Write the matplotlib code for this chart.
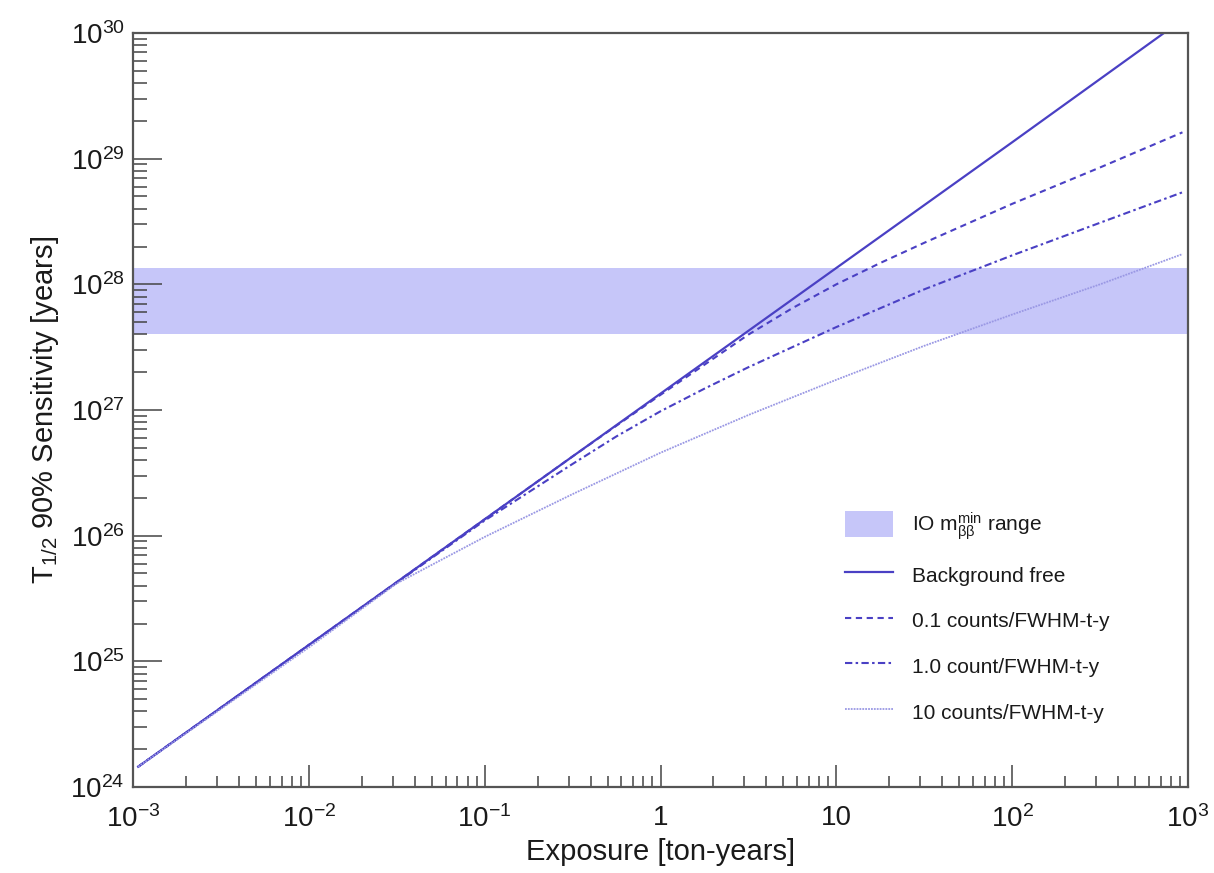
import numpy as np
import matplotlib
matplotlib.use("Agg")
import matplotlib.pyplot as plt
from matplotlib.ticker import FixedLocator, FixedFormatter, LogLocator, NullFormatter

plt.rcParams["font.family"] = ["Liberation Sans", "DejaVu Sans"]
plt.rcParams["mathtext.fontset"] = "custom"
plt.rcParams["mathtext.rm"] = "Liberation Sans"
plt.rcParams["mathtext.it"] = "Liberation Sans:italic"
plt.rcParams["mathtext.bf"] = "Liberation Sans:bold"

# exposure [ton-years] and half-life sensitivity [years]
exp_bkg_free = [1.07e-3, 1e-2, 1e-1, 1.0, 10.0, 100.0, 730.0]
t_bkg_free = [1.45e24, 1.35e25, 1.35e26, 1.35e27, 1.35e28, 1.35e29, 1.0e30]

exp_01 = [1.07e-3, 1e-2, 0.1, 0.316, 1.0, 3.16, 5.62, 10.0, 17.8, 31.6, 100.0, 316.0, 930.0]
t_01 = [1.45e24, 1.35e25, 1.35e26, 4.27e26, 1.32e27, 3.98e27, 6.46e27, 1.0e28, 1.48e28,
        2.14e28, 4.37e28, 8.51e28, 1.62e29]

exp_1 = [1.07e-3, 1e-2, 0.1, 0.316, 0.562, 1.0, 1.78, 3.16, 10.0, 31.6, 100.0, 316.0, 930.0]
t_1 = [1.45e24, 1.35e25, 1.32e26, 3.72e26, 6.17e26, 9.77e26, 1.48e27, 2.19e27, 4.57e27,
       9.12e27, 1.70e28, 3.09e28, 5.4e28]

exp_10 = [1.07e-3, 1e-2, 0.0316, 0.1, 0.316, 1.0, 3.16, 10.0, 31.6, 100.0, 316.0, 930.0]
t_10 = [1.45e24, 1.29e25, 4.17e25, 9.77e25, 2.14e26, 4.57e26, 9.12e26, 1.74e27, 3.24e27, 5.75e27, 1.0e28, 1.74e28]

io_band = [4.0e27, 1.35e28]

xticks = [1e-3, 1e-2, 1e-1, 1, 10, 1e2, 1e3]
xticklabels = [r"$10^{-3}$", r"$10^{-2}$", r"$10^{-1}$", "1", "10", r"$10^{2}$", r"$10^{3}$"]
yticks = [1e24, 1e25, 1e26, 1e27, 1e28, 1e29, 1e30]
yticklabels = [r"$10^{%d}$" % e for e in range(24, 31)]

labels = [r"IO m$_{\mathrm{ββ}}^{\mathrm{min}}$ range", "Background free",
          "0.1 counts/FWHM-t-y", "1.0 count/FWHM-t-y", "10 counts/FWHM-t-y"]

LINE = "#4a40c4"
LIGHT = "#9a98e4"
BAND = "#c6c6f9"
TXT = "#1a1a1a"

fig = plt.figure(figsize=(12.14, 8.73), dpi=100)
ax = fig.add_axes([133 / 1214, 1 - 787 / 873, (1188 - 133) / 1214, (787 - 33) / 873])

band = ax.axhspan(io_band[0], io_band[1], color=BAND, lw=0, zorder=0)
l0, = ax.plot(exp_bkg_free, t_bkg_free, color=LINE, lw=1.6)
l1, = ax.plot(exp_01, t_01, color=LINE, lw=1.5, dashes=(3, 2.2))
l2, = ax.plot(exp_1, t_1, color=LINE, lw=1.5, dashes=(3.5, 1.6, 1.2, 1.6))
l3, = ax.plot(exp_10, t_10, color=LIGHT, lw=1.3, dashes=(1.0, 0.6))

ax.set_xscale("log")
ax.set_yscale("log")
ax.set_xlim(1e-3, 1e3)
ax.set_ylim(1e24, 1e30)

ax.xaxis.set_major_locator(FixedLocator(xticks))
ax.xaxis.set_major_formatter(FixedFormatter(xticklabels))
ax.yaxis.set_major_locator(FixedLocator(yticks))
ax.yaxis.set_major_formatter(FixedFormatter(yticklabels))
ax.xaxis.set_minor_locator(LogLocator(base=10, subs=np.arange(2, 10), numticks=20))
ax.yaxis.set_minor_locator(LogLocator(base=10, subs=np.arange(2, 10), numticks=20))
ax.xaxis.set_minor_formatter(NullFormatter())
ax.yaxis.set_minor_formatter(NullFormatter())

ax.tick_params(axis="both", which="both", direction="in", top=False, right=False,
               color="#444444", width=1.1, labelcolor=TXT)
ax.tick_params(axis="x", which="major", length=16, pad=13, labelsize=20)
ax.tick_params(axis="x", which="minor", length=8)
ax.tick_params(axis="y", which="major", length=21, pad=6, labelsize=20)
ax.tick_params(axis="y", which="minor", length=10)
for s in ax.spines.values():
    s.set_color("#555555")
    s.set_linewidth(1.6)

ax.set_xlabel("Exposure [ton-years]", fontsize=21, color=TXT)
ax.xaxis.set_label_coords(0.5, -0.068)
ax.set_ylabel(r"T$_{1/2}$ 90% Sensitivity [years]", fontsize=21, color=TXT)
ax.yaxis.set_label_coords(-0.068, 0.5)

leg = ax.legend([band, l0, l1, l2, l3], labels, loc="upper left",
                bbox_to_anchor=(845 / 1214, 1 - 510 / 873), bbox_transform=fig.transFigure,
                frameon=False, fontsize=15, handlelength=2.3, handleheight=1.55,
                labelspacing=0.95, handletextpad=0.9, borderpad=0, borderaxespad=0)
for t in leg.get_texts():
    t.set_color(TXT)

fig.savefig("out.png", dpi=100)
